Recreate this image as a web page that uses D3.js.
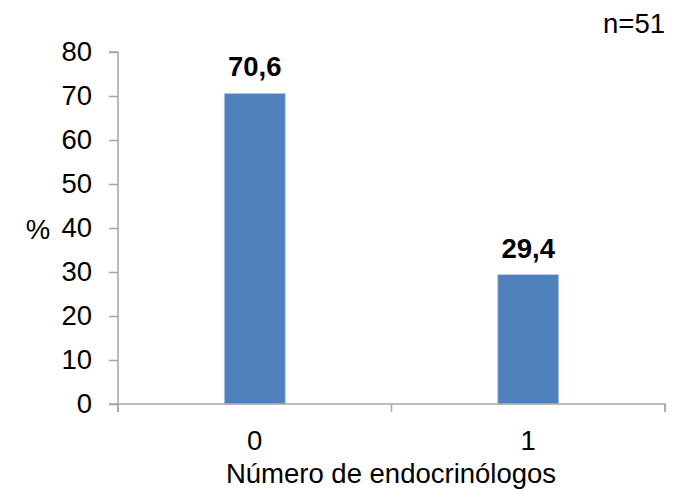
<!DOCTYPE html>
<html><head><meta charset="utf-8">
<script src="https://cdn.jsdelivr.net/npm/d3@7"></script>
<style>body{margin:0;background:#fff}svg{display:block}text{font-family:"Liberation Sans",Arial,sans-serif;fill:#000}</style>
</head><body><svg id="c" width="685" height="492"></svg>
<script>
const categories = ["0", "1"];
const values = [70.6, 29.4];
const valueLabels = ["70,6", "29,4"];
const yTicks = [0, 10, 20, 30, 40, 50, 60, 70, 80];

(function () {
const svg = d3.select("#c");
const mLeft = 118, mRight = 665, mTop = 52, mBottom = 404;
const fs = "27.5px";
const x = d3.scaleBand().domain(categories).range([mLeft, mRight]).padding(0);
const y = d3.scaleLinear().domain([0, 80]).range([mBottom, mTop]);
const axisColor = "#A6A6A6";
const barW = x.bandwidth() * 0.223;

// bars
svg.selectAll("rect.bar").data(values).enter().append("rect")
  .attr("x", (d, i) => x(categories[i]) + x.bandwidth() / 2 - barW / 2)
  .attr("y", d => y(d))
  .attr("width", barW)
  .attr("height", d => y(0) - y(d))
  .attr("fill", "#4F81BD")
  .attr("stroke", "#B9CDE5").attr("stroke-width", 0.8);

// y axis
const ya = svg.append("g").attr("transform", `translate(${mLeft},0)`)
  .call(d3.axisLeft(y).tickValues(yTicks).tickSize(9).tickPadding(17).tickFormat(d3.format("d")));
ya.select(".domain").attr("stroke", axisColor).attr("stroke-width", 1.5).attr("d", `M-9,${mTop}H0V${mBottom}H-9`);
ya.selectAll(".tick line").attr("stroke", axisColor).attr("stroke-width", 1.5);
ya.selectAll(".tick text").style("font-size", fs).style("font-family", '"Liberation Sans",Arial,sans-serif').attr("fill", "#000");

// x axis
const xa = svg.append("g").attr("transform", `translate(0,${mBottom})`)
  .call(d3.axisBottom(x).tickSize(0).tickPadding(26));
xa.select(".domain").attr("stroke", axisColor).attr("stroke-width", 1.5).attr("d", `M${mLeft},8V0H${mRight}V8`);
xa.selectAll(".tick text").style("font-size", fs).style("font-family", '"Liberation Sans",Arial,sans-serif').attr("fill", "#000");
const bounds = [mLeft, x(categories[1]), mRight];
xa.selectAll("line.b").data(bounds).enter().append("line")
  .attr("x1", d => d).attr("x2", d => d).attr("y1", 0).attr("y2", 8)
  .attr("stroke", axisColor).attr("stroke-width", 1.5);

// value labels
svg.selectAll("text.val").data(values).enter().append("text")
  .attr("x", (d, i) => x(categories[i]) + x.bandwidth() / 2)
  .attr("y", d => y(d) - 17)
  .attr("text-anchor", "middle")
  .style("font-size", fs).style("font-weight", "bold")
  .text((d, i) => valueLabels[i]);

// titles
svg.append("text").attr("x", 391).attr("y", 483).attr("text-anchor", "middle").style("font-size", fs).text("Número de endocrinólogos");
svg.append("text").attr("x", 38).attr("y", 239).attr("text-anchor", "middle").style("font-size", fs).text("%");
svg.append("text").attr("x", 665).attr("y", 33).attr("text-anchor", "end").style("font-size", fs).text("n=51");
})();
</script></body></html>
